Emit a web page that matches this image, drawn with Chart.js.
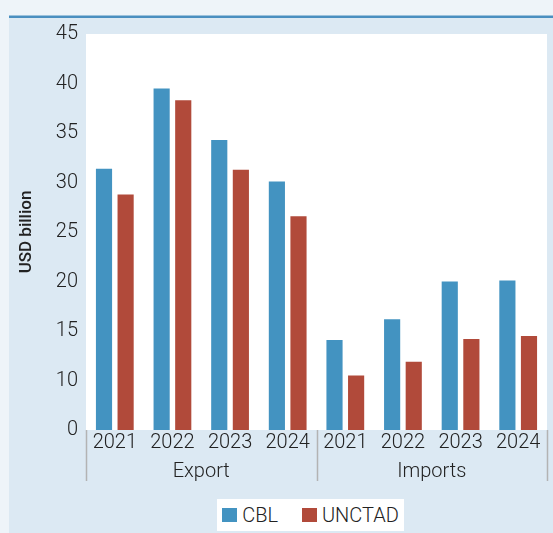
<!DOCTYPE html>
<html>
<head>
<meta charset="utf-8">
<script src="https://cdn.jsdelivr.net/npm/chart.js@4.4.1/dist/chart.umd.min.js"></script>
<style>
  html, body { margin: 0; padding: 0; width: 553px; height: 533px; overflow: hidden; background: #eef4f9; }
  #wrap { position: absolute; left: 0; top: 0; width: 553px; height: 533px; }
  #legend {
    position: absolute; left: 217px; top: 499px; width: 187px; height: 32px;
    background: #ffffff; display: flex; align-items: center; justify-content: center;
    font: 300 20px Roboto, "DejaVu Sans Condensed", sans-serif; color: #222222;
  }
  #legend .item { display: flex; align-items: center; }
  #legend .item + .item { margin-left: 24px; }
  #legend .sw { width: 15px; height: 14px; margin-right: 5px; }
</style>
</head>
<body>
<div id="wrap">
  <canvas id="chart" width="553" height="533"></canvas>
  <div id="legend"></div>
</div>
<script>
// Export / import values, USD billion
const groups = ['Export', 'Imports'];
const years = ['2021', '2022', '2023', '2024', '2021', '2022', '2023', '2024'];
const seriesNames = ['CBL', 'UNCTAD'];
const cbl = [31.5, 39.6, 34.4, 30.2, 14.2, 16.3, 20.1, 20.2];
const unctad = [28.9, 38.4, 31.4, 26.7, 10.6, 12.0, 14.3, 14.6];
// value axis: the bottom tick carries the "0" label
const yTickValues = [5, 10, 15, 20, 25, 30, 35, 40, 45];
const yTickLabels = ['0', '10', '15', '20', '25', '30', '35', '40', '45'];

const colors = ['#4393c1', '#b14a3a'];
const FONT = 'Roboto, "DejaVu Sans Condensed", sans-serif';
const TEXT = '#222222';

// panel, top rule and white plotting area
const backdrop = {
  id: 'backdrop',
  beforeDraw(chart) {
    const { ctx, chartArea: a } = chart;
    ctx.save();
    ctx.fillStyle = '#eef4f9';
    ctx.fillRect(0, 0, chart.width, chart.height);
    ctx.fillStyle = '#dce9f3';
    ctx.fillRect(9, 16, chart.width - 9, chart.height - 16);
    ctx.fillStyle = '#4a8fc0';
    ctx.fillRect(9, 15.5, chart.width - 9, 2.5);
    ctx.fillStyle = '#ffffff';
    ctx.fillRect(a.left, a.top, a.right - a.left, a.bottom - a.top);
    ctx.restore();
  }
};

// group separators and group captions under the year labels
const groupAxis = {
  id: 'groupAxis',
  afterDraw(chart) {
    const { ctx, chartArea: a } = chart;
    const x = chart.scales.x;
    const per = years.length / groups.length;
    ctx.save();
    ctx.strokeStyle = '#b3b3b3';
    ctx.lineWidth = 1.5;
    for (let g = 0; g <= groups.length; g++) {
      const px = Math.round(x.getPixelForValue(g * per - 0.5)) + 0.5;
      ctx.beginPath();
      ctx.moveTo(px, a.bottom);
      ctx.lineTo(px, 481);
      ctx.stroke();
    }
    ctx.fillStyle = TEXT;
    ctx.font = '300 20px ' + FONT;
    ctx.textAlign = 'center';
    ctx.textBaseline = 'alphabetic';
    groups.forEach((name, g) => {
      const cx = x.getPixelForValue(g * per + (per - 1) / 2);
      ctx.fillText(name, cx, 477);
    });
    ctx.restore();
  }
};

const chart = new Chart(document.getElementById('chart'), {
  type: 'bar',
  data: {
    labels: years,
    datasets: [
      { label: seriesNames[0], data: cbl, backgroundColor: colors[0],
        borderColor: 'rgba(255,255,255,0.35)', borderWidth: 1 },
      { label: seriesNames[1], data: unctad, backgroundColor: colors[1],
        borderColor: 'rgba(255,255,255,0.35)', borderWidth: 1 }
    ]
  },
  options: {
    responsive: false,
    animation: false,
    devicePixelRatio: 1,
    layout: { padding: { left: 0, right: 6, top: 34, bottom: 0 } },
    datasets: { bar: { categoryPercentage: 0.75, barPercentage: 0.84 } },
    plugins: { legend: { display: false }, tooltip: { enabled: false } },
    scales: {
      x: {
        type: 'category',
        offset: true,
        grid: { display: false, drawTicks: false },
        border: { display: false },
        ticks: { color: TEXT, font: { family: FONT, size: 20, weight: 300 }, padding: 1, maxRotation: 0, autoSkip: false },
        afterFit(scale) { scale.height = 103; }
      },
      y: {
        type: 'linear',
        min: 5,
        max: 45,
        grid: { display: false, drawTicks: false },
        border: { display: false },
        afterBuildTicks(scale) { scale.ticks = yTickValues.map(v => ({ value: v })); },
        ticks: {
          color: TEXT, font: { family: FONT, size: 20, weight: 300 }, padding: 8,
          callback(value) { return yTickLabels[yTickValues.indexOf(value)]; }
        },
        title: {
          display: true, text: 'USD billion', color: TEXT,
          font: { family: FONT, size: 17, weight: 500 }, padding: { top: 17, bottom: 0 }
        },
        afterFit(scale) { scale.width = 86; }
      }
    }
  },
  plugins: [backdrop, groupAxis]
});

// legend row built from the series names and colours
const legend = document.getElementById('legend');
seriesNames.forEach((name, i) => {
  const item = document.createElement('div');
  item.className = 'item';
  const sw = document.createElement('div');
  sw.className = 'sw';
  sw.style.background = colors[i];
  const t = document.createElement('span');
  t.textContent = name;
  item.appendChild(sw);
  item.appendChild(t);
  legend.appendChild(item);
});
</script>
</body>
</html>
